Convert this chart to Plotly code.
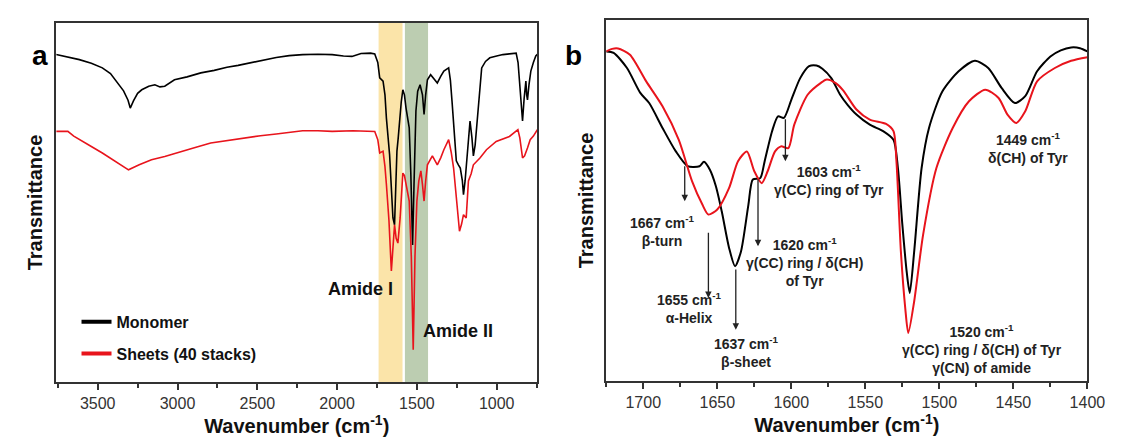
import plotly.graph_objects as go

# ---- panel a : full FTIR spectra (transmittance, arbitrary units) ----
wn_a_mono = [3760, 3700, 3615, 3540, 3471, 3420, 3389, 3338, 3310, 3296, 3276, 3250, 3224, 3180, 3142,
             3110, 3080, 3050, 3019, 2940, 2854, 2770, 2690, 2620, 2545, 2460, 2381, 2300, 2216, 2120,
             2031, 1960, 1907, 1850, 1790, 1764, 1745, 1733, 1712, 1700, 1691, 1671, 1660, 1650, 1640,
             1632, 1625, 1617, 1609, 1598, 1588, 1578, 1568, 1558, 1548, 1538, 1527, 1518, 1506, 1495,
             1480, 1465, 1455, 1445, 1434, 1414, 1395, 1372, 1350, 1331, 1301, 1290, 1280, 1265, 1253,
             1240, 1228, 1215, 1208, 1198, 1187, 1175, 1167, 1155, 1146, 1135, 1125, 1110, 1094, 1070,
             1043, 1000, 961, 920, 878, 866, 858, 848, 838, 828, 817, 812, 807, 797, 786, 770, 755, 745]
t_a_mono = [91.2, 90.6, 89.8, 88.8, 87.5, 85.9, 84.2, 81.1, 78.5, 76.3, 78.3, 80.4, 81.4, 82.4, 82.8,
            82.2, 82.4, 83.3, 84.2, 85.0, 86.1, 86.8, 87.7, 88.2, 88.9, 89.7, 90.4, 90.9, 91.2, 91.3,
            91.2, 90.8, 90.7, 91.5, 91.6, 91.4, 89.0, 84.7, 83.8, 80.0, 73.5, 63.3, 55.0, 45.7, 43.8,
            55.0, 64.3, 68.0, 72.7, 78.0, 81.4, 80.0, 76.3, 74.0, 70.8, 58.0, 38.2, 55.0, 75.5, 81.0,
            82.8, 80.0, 74.5, 80.0, 84.2, 85.6, 84.5, 83.3, 85.2, 86.6, 87.5, 84.0, 78.3, 70.0, 61.6,
            60.5, 59.6, 56.0, 52.2, 56.0, 61.6, 68.0, 72.7, 68.0, 63.0, 66.0, 70.8, 80.0, 87.5, 89.3,
            90.3, 90.8, 91.2, 91.4, 91.6, 89.0, 84.7, 78.0, 72.7, 79.0, 83.8, 80.0, 78.6, 83.0, 86.6, 89.0, 90.8, 91.3]

wn_a_sheet = [3760, 3687, 3650, 3615, 3540, 3471, 3390, 3307, 3240, 3163, 3080, 2998, 2900, 2792, 2690,
              2586, 2480, 2381, 2300, 2216, 2120, 2031, 1900, 1764, 1745, 1733, 1712, 1700, 1691, 1675,
              1660, 1650, 1640, 1630, 1619, 1605, 1595, 1588, 1578, 1568, 1558, 1548, 1535, 1523, 1512,
              1500, 1488, 1475, 1465, 1455, 1445, 1434, 1403, 1372, 1350, 1331, 1301, 1285, 1270, 1250,
              1233, 1220, 1208, 1191, 1177, 1160, 1146, 1105, 1064, 1003, 960, 920, 867, 855, 838,
              825, 807, 790, 770, 755, 745]
t_a_sheet = [69.8, 69.8, 68.5, 67.5, 65.6, 63.8, 61.5, 59.1, 60.5, 61.9, 62.8, 63.8, 65.2, 66.6, 67.3,
             68.0, 68.6, 69.1, 69.6, 70.0, 70.0, 69.8, 70.0, 69.8, 67.5, 63.8, 64.3, 60.0, 55.0, 45.0,
             30.9, 38.0, 43.8, 40.0, 38.7, 45.7, 52.0, 58.2, 57.5, 55.0, 53.0, 50.4, 35.0, 9.0, 35.0,
             50.4, 56.0, 58.8, 55.0, 50.4, 56.0, 60.5, 63.0, 60.5, 62.5, 64.7, 67.5, 64.0, 59.6, 50.0,
             42.0, 44.0, 46.6, 45.7, 56.0, 58.0, 60.5, 62.4, 64.7, 67.0, 67.8, 68.4, 70.3, 68.0, 62.4,
             63.0, 65.2, 67.5, 68.5, 69.8, 70.3]

# ---- panel b : amide I / II region ----
wn_b_mono = [1725, 1720, 1711, 1702, 1696, 1687, 1678, 1670, 1662, 1659, 1655, 1651, 1647, 1642, 1638,
             1634, 1629, 1626, 1621, 1618, 1613, 1609, 1605, 1600, 1594, 1588, 1583, 1579, 1573, 1567,
             1562, 1556, 1547, 1538, 1531, 1528, 1525, 1522, 1520, 1517, 1512, 1507, 1498, 1487, 1476,
             1467, 1458, 1449, 1442, 1434, 1425, 1418, 1411, 1405, 1400]
t_b_mono = [91.3, 90.9, 86.7, 79.8, 77.0, 70.1, 63.6, 59.5, 59.5, 60.7, 58.5, 54.0, 47.0, 36.8, 31.8,
            35.9, 48.8, 55.8, 56.2, 60.9, 69.2, 73.3, 72.9, 77.9, 83.9, 87.2, 87.4, 86.5, 83.9, 79.3,
            76.5, 73.8, 71.0, 69.2, 66.8, 59.0, 43.3, 30.0, 24.4, 35.9, 59.0, 70.1, 80.2, 85.8, 88.7,
            86.7, 81.2, 77.0, 78.9, 85.8, 89.9, 91.6, 92.4, 92.2, 91.3]

wn_b_sheet = [1725, 1721, 1717, 1709, 1698, 1687, 1676, 1667, 1660, 1656, 1650, 1642, 1636, 1630, 1625,
              1620, 1616, 1611, 1607, 1602, 1598, 1589, 1580, 1576, 1570, 1565, 1556, 1547, 1536, 1531,
              1529, 1526, 1523, 1521, 1517, 1511, 1502, 1491, 1480, 1469, 1460, 1454, 1448, 1442, 1434,
              1422, 1411, 1400]
t_b_sheet = [91.3, 92.0, 92.1, 90.4, 83.0, 76.1, 66.8, 55.3, 48.8, 46.1, 47.5, 53.5, 60.9, 63.6, 58.1,
             54.8, 58.1, 63.6, 65.0, 64.5, 71.0, 79.3, 82.6, 83.5, 82.5, 80.5, 75.2, 72.4, 71.2, 69.2,
             60.9, 35.9, 20.0, 13.3, 22.1, 40.5, 59.0, 70.1, 77.5, 80.7, 78.4, 73.8, 71.5, 74.7, 83.0,
             86.7, 88.7, 89.7]

# shaded bands in panel a (cm-1)
amide1_band = [1740, 1590]
amide2_band = [1575, 1430]

# peak labels in panel b: (arrow x, arrow tail, arrow tip) and text blocks
arrow_wn = [1672, 1656, 1637.5, 1622.5, 1604]
arrow_tail = [59.9, 41.5, 31.3, 56.2, 72.9]
arrow_tip = [49.8, 23.0, 14.2, 37.3, 60.9]
label_wn = [1687, 1668.5, 1630, 1591, 1574.5, 1440, 1471]
label_t = [41.5, 20.3, 8.0, 33.0, 55.6, 64.5, 8.9]
label_txt = ["1667 cm<sup>-1</sup><br>β-turn",
             "1655 cm<sup>-1</sup><br>α-Helix",
             "1637 cm<sup>-1</sup><br>β-sheet",
             "1620 cm<sup>-1</sup><br>γ(CC) ring / δ(CH)<br>of Tyr",
             "1603 cm<sup>-1</sup><br>γ(CC) ring of Tyr",
             "1449 cm<sup>-1</sup><br>δ(CH) of Tyr",
             "1520 cm<sup>-1</sup><br>γ(CC) ring / δ(CH) of Tyr<br>γ(CN) of amide"]

RED = "#e8141c"
FONT = "Liberation Sans, Arial, sans-serif"

fig = go.Figure()

fig.add_trace(go.Scatter(x=wn_a_mono, y=t_a_mono, mode="lines", line=dict(color="black", width=1.6),
                         showlegend=False, xaxis="x", yaxis="y"))
fig.add_trace(go.Scatter(x=wn_a_sheet, y=t_a_sheet, mode="lines", line=dict(color=RED, width=1.6),
                         showlegend=False, xaxis="x", yaxis="y"))
# legend entries (thicker line like the original)
fig.add_trace(go.Scatter(x=[None], y=[None], mode="lines", line=dict(color="black", width=4),
                         name="<b>Monomer</b>", legendgroup="m", xaxis="x", yaxis="y"))
fig.add_trace(go.Scatter(x=[None], y=[None], mode="lines", line=dict(color=RED, width=4),
                         name="<b>Sheets (40 stacks)</b>", legendgroup="s", xaxis="x", yaxis="y"))

fig.add_trace(go.Scatter(x=wn_b_mono, y=t_b_mono, mode="lines", line=dict(color="black", width=2, shape="spline", smoothing=0.7),
                         showlegend=False, xaxis="x2", yaxis="y2"))
fig.add_trace(go.Scatter(x=wn_b_sheet, y=t_b_sheet, mode="lines", line=dict(color=RED, width=2, shape="spline", smoothing=0.7),
                         showlegend=False, xaxis="x2", yaxis="y2"))

shapes = [
    dict(type="rect", xref="x", yref="y domain", x0=amide1_band[0], x1=amide1_band[1], y0=0, y1=1,
         fillcolor="#fbe4a9", line_width=0, layer="below"),
    dict(type="rect", xref="x", yref="y domain", x0=amide2_band[0], x1=amide2_band[1], y0=0, y1=1,
         fillcolor="#bccdb1", line_width=0, layer="below"),
]

ann = []
for xw, t0, t1 in zip(arrow_wn, arrow_tail, arrow_tip):
    ann.append(dict(x=xw, y=t1, ax=xw, ay=t0, xref="x2", yref="y2", axref="x2", ayref="y2", text="",
                    showarrow=True, arrowhead=2, arrowsize=1, arrowwidth=1.3, arrowcolor="#222"))
for xw, t, s in zip(label_wn, label_t, label_txt):
    ann.append(dict(x=xw, y=t, xref="x2", yref="y2", text="<b>" + s + "</b>", showarrow=False,
                    align="center", font=dict(size=14, color="#222", family=FONT)))

ann += [
    dict(x=1640, y=26.0, xref="x", yref="y", text="<b>Amide I</b>", xanchor="right", showarrow=False,
         font=dict(size=18, color="#111", family=FONT)),
    dict(x=1475, y=14.3, xref="x", yref="y", text="<b>Amide II</b>", xanchor="left", showarrow=False,
         font=dict(size=18, color="#111", family=FONT)),
    dict(x=22 / 1123, y=1 - 30 / 443, xref="paper", yref="paper", text="<b>a</b>", showarrow=False,
         font=dict(size=28, color="black", family=FONT)),
    dict(x=575 / 1123, y=1 - 30 / 443, xref="paper", yref="paper", text="<b>b</b>", showarrow=False,
         font=dict(size=28, color="black", family=FONT)),
]

xcommon = dict(showgrid=False, zeroline=False, showline=True, linecolor="#333", linewidth=1.5, mirror=True,
               ticks="outside", ticklen=6, tickwidth=1.5, tickcolor="#333",
               tickfont=dict(size=16, color="#333", family=FONT),
               title=dict(text="<b>Wavenumber (cm<sup>-1</sup>)</b>", font=dict(size=20, color="#111", family=FONT), standoff=8))
ycommon = dict(showgrid=False, zeroline=False, showline=True, linecolor="#333", linewidth=1.5, mirror=True,
               ticks="", showticklabels=False, range=[0, 100],
               title=dict(text="<b>Transmittance</b>", font=dict(size=20, color="#111", family=FONT), standoff=6))

fig.update_layout(
    width=1123, height=443, margin=dict(l=0, r=0, t=0, b=0),
    paper_bgcolor="white", plot_bgcolor="white",
    font=dict(family=FONT),
    xaxis=dict(xcommon, domain=[49 / 1123, 538 / 1123], range=[3760, 745], dtick=500,
               minor=dict(dtick=250, ticks="outside", ticklen=4, tickcolor="#333", tickwidth=1.5)),
    yaxis=dict(ycommon, domain=[1 - 374 / 443, 1 - 15 / 443], anchor="x"),
    xaxis2=dict(xcommon, domain=[608 / 1123, 1097 / 1123], range=[1725, 1400], dtick=50, anchor="y2",
                minor=dict(dtick=25, ticks="outside", ticklen=4, tickcolor="#333", tickwidth=1.5)),
    yaxis2=dict(ycommon, domain=[1 - 373 / 443, 1 - 12 / 443], anchor="x2"),
    shapes=shapes, annotations=ann,
    legend=dict(x=0.062, y=0.33, xanchor="left", yanchor="top", bgcolor="rgba(0,0,0,0)",
                font=dict(size=16, color="#111", family=FONT), tracegroupgap=8),
)

fig.write_html("out.html")
